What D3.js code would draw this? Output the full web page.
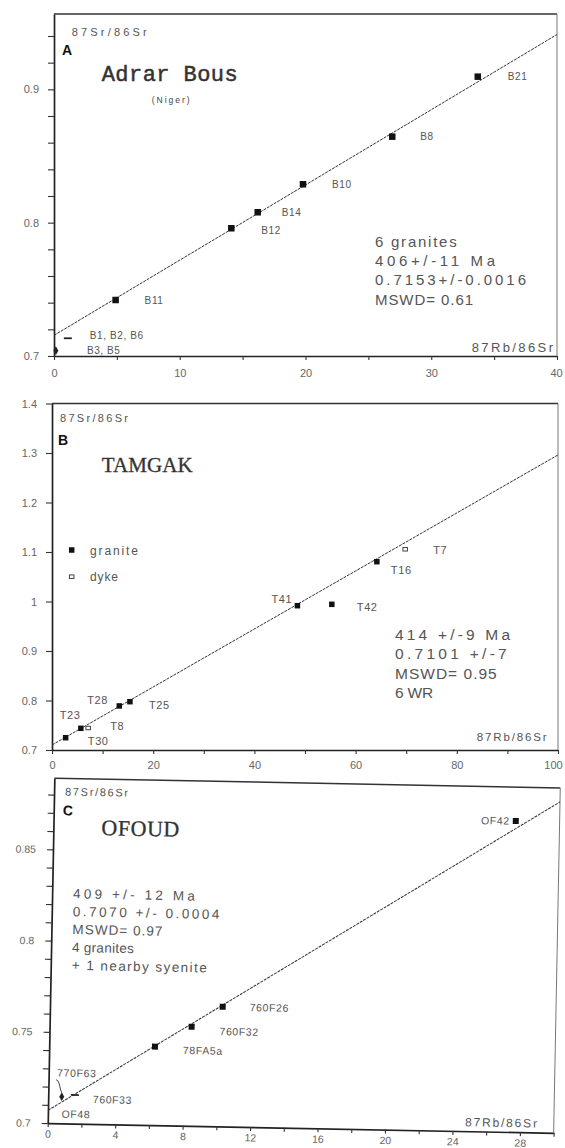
<!DOCTYPE html>
<html><head><meta charset="utf-8">
<script src="https://cdn.jsdelivr.net/npm/d3@7"></script>
<style>
body{margin:0;background:#fff}
svg{display:block}
</style></head>
<body><svg id="chart" width="565" height="1148"></svg>
<script>
// ---------------- DATA ----------------
// Panel A : Adrar Bous
const aNames  = ["B21","B8","B10","B14","B12","B11","B1, B2, B6","B3, B5"];
const aRb     = [33.7, 26.9, 19.8, 16.2, 14.1, 4.9, 1.1, 0.15];
const aSr     = [0.9095, 0.8645, 0.8288, 0.8078, 0.7958, 0.742, 0.7133, 0.704];
const aKind   = ["granite","granite","granite","granite","granite","granite","dash","small"];
const aIntercept = 0.7155, aSlope = 0.00564;
const aXTicks = [0,10,20,30,40], aXMinor = [5,15,25,35];
const aYTicks = [0.7,0.8,0.9], aYMinor = [0.72,0.74,0.76,0.78,0.82,0.84,0.86,0.88,0.92,0.94];
const aStats = ["6 granites","406+/-11 Ma","0.7153+/-0.0016","MSWD= 0.61"];

// Panel B : Tamgak
const bNames  = ["T23","T30","T8","T28","T25","T41","T42","T16","T7"];
const bRb     = [2.7, 5.7, 7.15, 13.3, 15.4, 48.5, 55.3, 64.2, 69.8];
const bSr     = [0.7248, 0.7438, 0.7444, 0.789, 0.7976, 0.9915, 0.9943, 1.0804, 1.1055];
const bKind   = ["granite","granite","dyke","granite","granite","granite","granite","granite","dyke"];
const bIntercept = 0.7101, bSlope = 0.00586;
const bXTicks = [0,20,40,60,80,100], bXMinor = [10,30,50,70,90];
const bYTicks = [0.7,0.8,0.9,1.0,1.1,1.2,1.3,1.4];
const bYLabels = ["0.7","0.8","0.9","1","1.1","1.2","1.3","1.4"];
const bStats = ["414 +/-9 Ma","0.7101 +/-7","MSWD= 0.95","6 WR"];
const bLegend = ["granite","dyke"];

// Panel C : Ofoud
const cNames  = ["OF42","760F26","760F32","78FA5a","770F63","760F33","OF48"];
const cRb     = [27.4, 10.24, 8.42, 6.27, 0.8, 1.58, 0.45];
const cSr     = [0.8704, 0.7656, 0.7543, 0.743, 0.7146, 0.7157, 0.7085];
const cKind   = ["granite","granite","granite","granite","small","dash","none"];
const cIntercept = 0.7070, cSlope = 0.00581;
const cXTicks = [0,4,8,12,16,20,24,28], cXMinor = [2,6,10,14,18,22,26,30];
const cYTicks = [0.7,0.75,0.8,0.85];
const cYMinor = [0.71,0.72,0.73,0.74,0.76,0.77,0.78,0.79,0.81,0.82,0.83,0.84,0.86,0.87,0.88];
const cStats = ["409 +/- 12 Ma","0.7070 +/- 0.0004","MSWD= 0.97","4 granites","+ 1 nearby syenite"];

// ---------------- LAYOUT ----------------
const svg = d3.select("#chart");
const INK = "#222", GREY = "#555";
const SANS = "'Liberation Sans', Arial, sans-serif";

function marker(g, kind, cx, cy, s) {
  if (kind === "granite") {
    g.append("rect").attr("x", cx - s/2).attr("y", cy - s/2).attr("width", s).attr("height", s).attr("fill", "#111");
  } else if (kind === "dyke") {
    g.append("rect").attr("x", cx - s/2 + 0.5).attr("y", cy - s/2 + 1).attr("width", s - 1).attr("height", s - 2)
      .attr("fill", "none").attr("stroke", "#444").attr("stroke-width", 1);
  } else if (kind === "dash") {
    g.append("line").attr("x1", cx - 4).attr("x2", cx + 4).attr("y1", cy).attr("y2", cy).attr("stroke", "#222").attr("stroke-width", 1.8);
  } else if (kind === "small") {
    g.append("path").attr("d", d3.symbol(d3.symbolDiamond, 22)()).attr("transform", `translate(${cx},${cy})`).attr("fill", "#222");
  }
}

function sized(g, str, x, y, fs, len, extra) {
  const t = g.append("text").attr("x", x).attr("y", y).style("font-size", fs + "px")
    .style("font-family", SANS).style("fill", GREY).text(str);
  if (len) t.attr("textLength", len).attr("lengthAdjust", "spacing");
  if (extra) extra(t);
  return t;
}

function panel(g, cfg) {
  const {x, y} = cfg;
  const [x0, x1] = x.range(), [y0, y1] = y.range();
  const xa = d3.axisBottom(x).tickValues(cfg.xTicks.concat(cfg.xMinor)).tickSize(4).tickPadding(cfg.xPad).tickSizeOuter(0)
    .tickFormat(d => cfg.xTicks.includes(d) ? String(d) : "");
  const ya = d3.axisLeft(y).tickValues(cfg.yTicks.concat(cfg.yMinor)).tickSize(6).tickPadding(cfg.yPad).tickSizeOuter(0)
    .tickFormat(d => { const i = cfg.yTicks.indexOf(d); return i >= 0 ? cfg.yLabels[i] : ""; });
  const gx = g.append("g").attr("transform", `translate(0,${y0})`).call(xa);
  const gy = g.append("g").attr("transform", `translate(${x0},0)`).call(ya);
  [gx, gy].forEach(a => {
    a.select(".domain").attr("stroke", INK).attr("stroke-width", 1.7);
    a.selectAll(".tick line").attr("stroke", "#333").attr("stroke-width", 1.1);
    a.selectAll(".tick text").style("font-size", cfg.tfs + "px").style("fill", "#666").style("font-family", SANS);
  });
  gx.selectAll(".tick text").filter(d => d === x.domain()[1]).attr("dx", cfg.lastDx || 0);
  g.append("line").attr("x1", x0).attr("x2", x1).attr("y1", y1).attr("y2", y1).attr("stroke", "#333").attr("stroke-width", 1.5);
  g.append("line").attr("x1", x1).attr("x2", x1).attr("y1", y1).attr("y2", y0).attr("stroke", "#777").attr("stroke-width", 1);
  const xd = x.domain();
  g.append("line")
    .attr("x1", x(xd[0])).attr("y1", y(cfg.b + cfg.m * xd[0]))
    .attr("x2", x(xd[1])).attr("y2", y(cfg.b + cfg.m * xd[1]))
    .attr("stroke", "#333").attr("stroke-width", 1).attr("stroke-dasharray", "3,1");
  cfg.names.forEach((n, i) => {
    const cx = x(cfg.rb[i]), cy = y(cfg.sr[i]);
    marker(g, cfg.kind[i], cx, cy, cfg.ms);
    const off = cfg.lab[i];
    g.append("text").attr("x", cx + off[0]).attr("y", cy + off[1] + 3.8)
      .style("font-size", cfg.lfs + "px").style("font-family", SANS).style("fill", GREY)
      .attr("text-anchor", off[2] || "start").attr("letter-spacing", 0.6).text(n);
  });
}

// ---------- Panel A ----------
const gA = svg.append("g");
const xA = d3.scaleLinear().domain([0, 40]).range([54, 557]);
const yA = d3.scaleLinear().domain([0.7, 0.9565]).range([356, 14]);
panel(gA, {x: xA, y: yA, xTicks: aXTicks, xMinor: aXMinor, yTicks: aYTicks, yMinor: aYMinor,
  yLabels: aYTicks.map(String), xPad: 9, yPad: 9, tfs: 11, lastDx: -1, b: aIntercept, m: aSlope,
  names: aNames, rb: aRb, sr: aSr, kind: aKind, ms: 6.5, lfs: 10,
  lab: [[30,0],[28,0],[29,0],[24,0],[30,2],[29,0],[22,-3],[31,0]]});
sized(gA, "87Sr/86Sr", 71.7, 35.7, 11, 75);
sized(gA, "A", 62, 55, 14, null, t => t.style("font-weight", "bold").style("fill", "#111"));
sized(gA, "Adrar Bous", 101.7, 81, 22, 136, t => t.style("font-family", "'Liberation Mono', 'Courier New', monospace")
  .style("fill", "#333").style("stroke", "#333").style("stroke-width", 0.5));
sized(gA, "(Niger)", 151.7, 103, 8.5, 38, t => t.style("fill", "#444"));
const aW = [81.7, 120, 151, 98], aBase = [247, 266.3, 285.3, 304.6];
aStats.forEach((s, i) => sized(gA, s, 375, aBase[i], 15, aW[i]));
sized(gA, "87Rb/86Sr", 471.7, 351.5, 13, 81.3);

// ---------- Panel B ----------
const gB = svg.append("g");
const xB = d3.scaleLinear().domain([0, 100]).range([52, 558]);
const yB = d3.scaleLinear().domain([0.7, 1.4]).range([750, 403.5]);
panel(gB, {x: xB, y: yB, xTicks: bXTicks, xMinor: bXMinor, yTicks: bYTicks, yMinor: [],
  yLabels: bYLabels, xPad: 7, yPad: 9, tfs: 11, lastDx: -5, b: bIntercept, m: bSlope,
  names: bNames, rb: bRb, sr: bSr, kind: bKind, ms: 5.5, lfs: 11,
  lab: [[-6,-23],[7,13],[22,-2],[-32,-6],[19,4],[-26,-7],[25,3],[14,8],[28,1]]});
sized(gB, "87Sr/86Sr", 60, 422, 11, 68);
sized(gB, "B", 58, 445, 14, null, t => t.style("font-weight", "bold").style("fill", "#111"));
sized(gB, "TAMGAK", 101.7, 471.7, 21, 91, t => t.style("font-family", "'Liberation Serif', 'Times New Roman', serif")
  .style("fill", "#333").style("stroke", "#333").style("stroke-width", 0.3));
marker(gB, "granite", 71.7, 550, 5.5);
marker(gB, "dyke", 71.7, 576.7, 5.5);
sized(gB, bLegend[0], 90, 554.5, 12, 48);
sized(gB, bLegend[1], 90, 581, 12, 28);
const bW = [115, 111.7, 101.7, 38.3], bBase = [640, 659, 678.6, 698.4];
bStats.forEach((s, i) => sized(gB, s, 395, bBase[i], 15.5, bW[i]));
sized(gB, "87Rb/86Sr", 476.7, 740.8, 11.5, 70);

// ---------- Panel C (scan is slightly rotated) ----------
const gC = svg.append("g").attr("transform", "rotate(1.1,303.7,955.5)");
const xC = d3.scaleLinear().domain([0, 30]).range([51, 557]);
const yC = d3.scaleLinear().domain([0.7, 0.889]).range([1128, 783]);
panel(gC, {x: xC, y: yC, xTicks: cXTicks, xMinor: cXMinor, yTicks: cYTicks, yMinor: cYMinor,
  yLabels: ["0.7","0.75","0.8","0.85"], xPad: 3, yPad: 11, tfs: 10.5, b: cIntercept, m: cSlope,
  names: cNames, rb: cRb, sr: cSr, kind: cKind, ms: 6, lfs: 10.5,
  lab: [[-6,0,"end"],[27,0],[28,4],[28,3],[-5,-24],[18,4],[6,6]]});
{
  const px = xC(cRb[4]), py = yC(cSr[4]);
  gC.append("path").attr("d", `M${px-6},${py-17} C${px-1},${py-15} ${px-3},${py-8} ${px},${py-4}`)
    .attr("fill", "none").attr("stroke", "#444").attr("stroke-width", 1);
}
sized(gC, "87Sr/86Sr", 62, 800, 11, 63);
sized(gC, "C", 60, 820, 14, null, t => t.style("font-weight", "bold").style("fill", "#111"));
sized(gC, "OFOUD", 99, 839, 22, 78, t => t.style("font-family", "'Liberation Serif', 'Times New Roman', serif")
  .style("fill", "#333").style("stroke", "#333").style("stroke-width", 0.3));
const cW = [121.7, 146.7, 90, 61.7, 135], cBase = [902.7, 920.6, 938.5, 956.4, 974.3];
cStats.forEach((s, i) => sized(gC, s, 72, cBase[i], 13.5, cW[i]));
sized(gC, "87Rb/86Sr", 468.2, 1123, 12, 72);
</script>
</body></html>
